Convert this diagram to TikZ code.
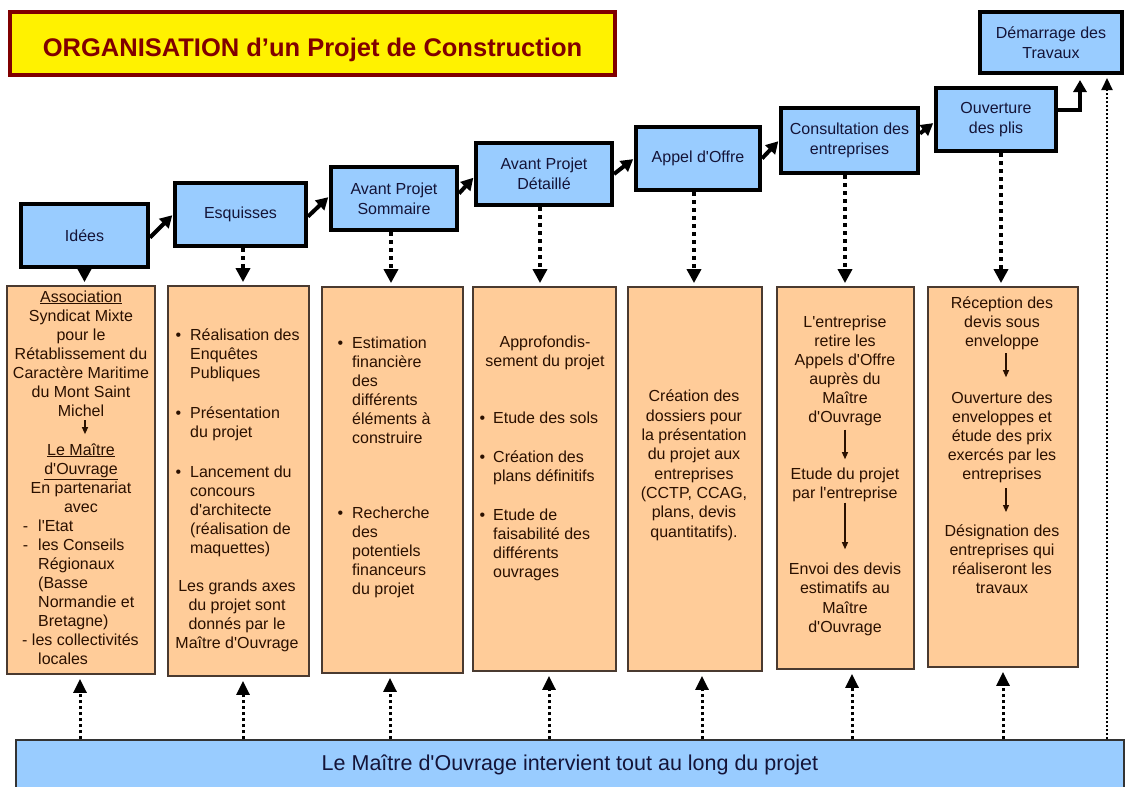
\documentclass[tikz,border=0pt]{standalone}
\usepackage{fontspec}
\setmainfont{Liberation Sans}[Ligatures=TeXOff]
\usetikzlibrary{arrows.meta}
\definecolor{boxblue}{HTML}{99CCFF}
\definecolor{peach}{HTML}{FFCC99}
\definecolor{titlered}{HTML}{800000}
\definecolor{navytext}{HTML}{141438}
\definecolor{coltext}{HTML}{2A1000}
\definecolor{colborder}{HTML}{4A3A30}
\begin{document}
\begin{tikzpicture}[x=1pt,y=-1pt,
 stepbox/.style={draw=black, line width=4pt, fill=boxblue, text=navytext, align=center, inner sep=0pt, font=\fontsize{16}{20}\selectfont},
 colbox/.style={draw=colborder, line width=1.8pt, fill=peach, inner sep=0pt},
 coltxt/.style={text=coltext, inner sep=0pt, font=\fontsize{16}{19}\selectfont},
 flow/.style={line width=4pt, -{Triangle[width=13pt,length=12pt]}, shorten >=1pt},
 down/.style={line width=4pt, dash pattern=on 4pt off 4pt, -{Triangle[width=14pt,length=14pt]}, shorten >=3pt},
 up/.style={line width=3pt, dash pattern=on 3pt off 3pt, -{Triangle[width=13pt,length=14pt]}, shorten >=4pt},
 longup/.style={line width=2pt, dash pattern=on 2pt off 2pt, -{Triangle[width=11pt,length=12pt]}, shorten >=3pt},
 innerarr/.style={line width=1.2pt, draw=coltext, -{Triangle[width=6pt,length=7pt]}},
]
\clip (0,0) rectangle (1125,787);
\fill[white] (0,0) rectangle (1125,787);

% title
\node[draw=titlered, line width=4pt, fill=yellow, minimum width=605pt, minimum height=63pt,
      text=titlered, font=\fontsize{25.5}{30}\selectfont\bfseries, text height=25pt, text depth=0pt, inner sep=0pt]
      (title) at (312.5,43.5) {ORGANISATION d’un Projet de Construction};

% step boxes
\node[stepbox, minimum width=127pt, minimum height=63pt] (idees) at (84.5,235.5) {Idées};
\node[stepbox, minimum width=131pt, minimum height=63pt] (esq) at (240.5,214.5) {Esquisses};
\node[stepbox, minimum width=126pt, minimum height=63pt] (aps) at (394,198.5) {Avant Projet\\Sommaire};
\node[stepbox, minimum width=136pt, minimum height=62pt] (apd) at (544,174) {Avant Projet\\Détaillé};
\node[stepbox, minimum width=124pt, minimum height=63pt] (appel) at (698,158.5) {Appel d'Offre};
\node[stepbox, minimum width=137pt, minimum height=65pt] (consult) at (849.5,140.5) {Consultation des\\entreprises};
\node[stepbox, minimum width=120pt, minimum height=63pt] (ouv) at (996,119.5) {Ouverture\\des plis};
\node[stepbox, minimum width=142pt, minimum height=61pt] (dem) at (1051,42.5) {Démarrage des\\Travaux};

% flow arrows
\draw[flow] ([yshift=-2pt]idees.east) -- (esq.west);
\draw[flow] ([yshift=-2pt]esq.east) -- ([yshift=2pt]aps.west);
\draw[flow] ([yshift=5pt]aps.east) -- ([yshift=-3pt]apd.west);
\draw[flow] (apd.east) -- (appel.west);
\draw[flow] (appel.east) -- (consult.west);
\draw[flow] ([yshift=7pt]consult.east) -- ([yshift=-3pt]ouv.west);
\draw[line width=4pt, -{Triangle[width=13pt,length=12pt]}, shorten >=5pt] ([yshift=9.5pt]ouv.east) -| ([xshift=29pt]dem.south);

% columns
\node[colbox, minimum width=148pt, minimum height=388pt] (c1) at (81,480) {};
\node[colbox, minimum width=141pt, minimum height=390pt] (c2) at (238.5,481) {};
\node[colbox, minimum width=141pt, minimum height=386pt] (c3) at (392.5,480) {};
\node[colbox, minimum width=143pt, minimum height=384pt] (c4) at (544.5,479) {};
\node[colbox, minimum width=134pt, minimum height=384pt] (c5) at (695,479) {};
\node[colbox, minimum width=137pt, minimum height=382pt] (c6) at (845.5,478) {};
\node[colbox, minimum width=150pt, minimum height=380pt] (c7) at (1003,477) {};

% down arrows
\draw[down] (idees.south) -- (idees.south |- c1.north);
\draw[down] ([xshift=2.5pt]esq.south) -- ([xshift=2.5pt]esq.south |- c2.north);
\draw[down] ([xshift=-3pt]aps.south) -- ([xshift=-3pt]aps.south |- c3.north);
\draw[down] ([xshift=-4pt]apd.south) -- ([xshift=-4pt]apd.south |- c4.north);
\draw[down] ([xshift=-4pt]appel.south) -- ([xshift=-4pt]appel.south |- c5.north);
\draw[down] ([xshift=-4.5pt]consult.south) -- ([xshift=-4.5pt]consult.south |- c6.north);
\draw[down] ([xshift=5pt]ouv.south) -- ([xshift=5pt]ouv.south |- c7.north);

% bottom bar
\node[draw=black!80, line width=1.2pt, fill=boxblue, minimum width=1108pt, minimum height=50pt, inner sep=0pt,
      text=navytext, font=\fontsize{21.5}{26}\selectfont] (bar) at (570,765)
      {Le Maître d'Ouvrage intervient tout au long du projet};

% up arrows
\draw[up] ([xshift=-1pt]c1.south |- bar.north) -- ([xshift=-1pt]c1.south);
\draw[up] ([xshift=4.5pt]c2.south |- bar.north) -- ([xshift=4.5pt]c2.south);
\draw[up] ([xshift=-2.5pt]c3.south |- bar.north) -- ([xshift=-2.5pt]c3.south);
\draw[up] ([xshift=4.5pt]c4.south |- bar.north) -- ([xshift=4.5pt]c4.south);
\draw[up] ([xshift=7pt]c5.south |- bar.north) -- ([xshift=7pt]c5.south);
\draw[up] ([xshift=6.5pt]c6.south |- bar.north) -- ([xshift=6.5pt]c6.south);
\draw[up] (c7.south |- bar.north) -- (c7.south);
\draw[longup] ([xshift=56pt]dem.south |- bar.north) -- ([xshift=56pt]dem.south);

% column 1
\node[coltxt, align=center, anchor=base] (t1a) at (81,416)
  {\underline{Association}\\Syndicat Mixte\\pour le\\Rétablissement du\\Caractère Maritime\\du Mont Saint\\Michel};
\node[coltxt, align=center, anchor=base] (t1b) at (81,512)
  {\underline{Le Maître}\\\underline{d'Ouvrage}\\En partenariat\\avec};
\draw[innerarr] ([xshift=4pt,yshift=-4pt]t1a.south) -- ([xshift=4pt,yshift=9pt]t1b.north);
\node[coltxt, align=left, anchor=base west] (t1c) at (38,664)
  {\llap{-\hspace{10pt}}l'Etat\\\llap{-\hspace{10pt}}les Conseils\\Régionaux\\(Basse\\Normandie et\\Bretagne)\\\hspace*{-16pt}- les collectivités\\locales};

% column 2
\node[coltxt, align=left, anchor=base west] (t2a) at (190,553)
  {\llap{\textbullet\hspace{9pt}}Réalisation des\\Enquêtes\\Publiques\\[21pt]\llap{\textbullet\hspace{9pt}}Présentation\\du projet\\[21pt]\llap{\textbullet\hspace{9pt}}Lancement du\\concours\\d'architecte\\(réalisation de\\maquettes)};
\node[coltxt, align=center, anchor=base] (t2b) at (237,648)
  {Les grands axes\\du projet sont\\donnés par le\\Maître d'Ouvrage};

% column 3
\node[coltxt, align=left, anchor=base west] (t3a) at (352,443)
  {\llap{\textbullet\hspace{9pt}}Estimation\\financière\\des\\différents\\éléments à\\construire};
\node[coltxt, align=left, anchor=base west] (t3b) at (352,594)
  {\llap{\textbullet\hspace{9pt}}Recherche\\des\\potentiels\\financeurs\\du projet};

% column 4
\node[coltxt, align=center, anchor=base] (t4a) at (545,366)
  {Approfondis-\\sement du projet};
\node[coltxt, align=left, anchor=base west] (t4b) at (493,577)
  {\llap{\textbullet\hspace{8pt}}Etude des sols\\[20pt]\llap{\textbullet\hspace{8pt}}Création des\\plans définitifs\\[20pt]\llap{\textbullet\hspace{8pt}}Etude de\\faisabilité des\\différents\\ouvrages};

% column 5
\node[coltxt, align=center, anchor=base, font=\fontsize{16}{19.3}\selectfont] (t5) at (694,537)
  {Création des\\dossiers pour\\la présentation\\du projet aux\\entreprises\\(CCTP, CCAG,\\plans, devis\\quantitatifs).};

% column 6
\node[coltxt, align=center, anchor=base] (t6a) at (845,422)
  {L'entreprise\\retire les\\Appels d'Offre\\auprès du\\Maître\\d'Ouvrage};
\node[coltxt, align=center, anchor=base] (t6b) at (845,498)
  {Etude du projet\\par l'entreprise};
\node[coltxt, align=center, anchor=base, font=\fontsize{16}{19.5}\selectfont] (t6c) at (845,632.5)
  {Envoi des devis\\estimatifs au\\Maître\\d'Ouvrage};
\draw[innerarr] ([yshift=-4pt]t6a.south) -- ([yshift=8pt]t6b.north);
\draw[innerarr] ([yshift=-1pt]t6b.south) -- ([yshift=13pt]t6c.north);

% column 7
\node[coltxt, align=center, anchor=base] (t7a) at (1002,346)
  {Réception des\\devis sous\\enveloppe};
\node[coltxt, align=center, anchor=base] (t7b) at (1002,479)
  {Ouverture des\\enveloppes et\\étude des prix\\exercés par les\\entreprises};
\node[coltxt, align=center, anchor=base] (t7c) at (1002,593)
  {Désignation des\\entreprises qui\\réaliseront les\\travaux};
\draw[innerarr] ([xshift=4pt,yshift=-3.5pt]t7a.south) -- ([xshift=4pt,yshift=14pt]t7b.north);
\draw[innerarr] ([xshift=4pt,yshift=-5.5pt]t7b.south) -- ([xshift=4pt,yshift=12pt]t7c.north);
\end{tikzpicture}
\end{document}
